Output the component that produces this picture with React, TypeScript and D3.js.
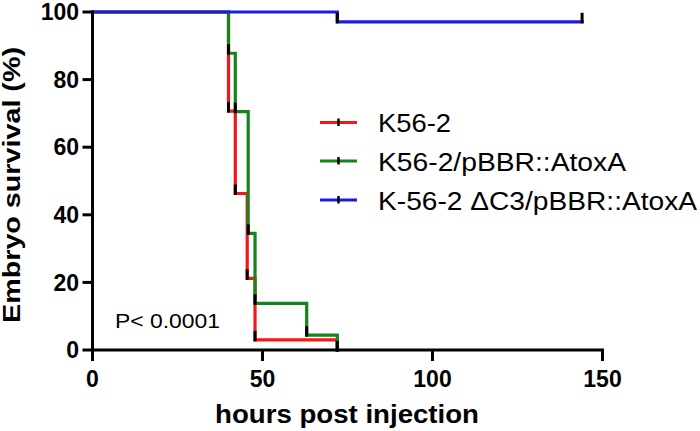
import React from "react";
import * as d3 from "d3";

const seriesNames = ["K56-2", "K56-2/pBBR::AtoxA", "K-56-2 \u0394C3/pBBR::AtoxA"];
const seriesColors = ["#f5161a", "#15841a", "#1c1ce0"];

const redTimes = [0, 40, 42, 45.5, 47.8, 72];
const redSurv = [100, 70.7, 46.3, 21.2, 3.0, 0];
const greenTimes = [0, 40, 42, 45.8, 47.8, 63, 72];
const greenSurv = [100, 87.8, 70.5, 34.5, 13.8, 4.4, 0];
const blueTimes = [0, 72, 144];
const blueSurv = [100, 97.1, 97.1];

const xTicks = [0, 50, 100, 150];
const yTicks = [0, 20, 40, 60, 80, 100];

const FONT = "'Liberation Sans', Arial, Helvetica, sans-serif";

export default function App() {
  const x = d3.scaleLinear().domain([0, 150]).range([92.5, 602.5]);
  const y = d3.scaleLinear().domain([0, 100]).range([350, 12]);

  const series = [
    { t: redTimes, s: redSurv },
    { t: greenTimes, s: greenSurv },
    { t: blueTimes, s: blueSurv },
  ];

  const line = d3
    .line<[number, number]>()
    .x((d) => x(d[0]))
    .y((d) => y(d[1]))
    .curve(d3.curveStepAfter);

  const legendY = [122.5, 161, 200];
  const legendTextLen = [73, 248, 319];

  return (
    <svg
      width={700}
      height={431}
      style={{ position: "absolute", left: 0, top: 0, background: "#fff" }}
      fontFamily={FONT}
    >
      <rect width={700} height={431} fill="#fff" />
      {series.map((sr, i) => {
        const pts: [number, number][] = sr.t.map((t, j) => [t, sr.s[j]]);
        return (
          <g key={i}>
            <path d={line(pts) || ""} fill="none" stroke={seriesColors[i]} strokeWidth={3.2} strokeLinecap="square" />
            {pts.slice(1).map((p, j) => (
              <line
                key={j}
                x1={x(p[0])}
                x2={x(p[0])}
                y1={y(p[1]) - 9}
                y2={y(p[1]) + 1.5}
                stroke="#000"
                strokeWidth={3}
              />
            ))}
          </g>
        );
      })}

      <line x1={x(0)} x2={x(0)} y1={y(100) - 1.5} y2={y(0)} stroke="#000" strokeWidth={3} />
      <line x1={x(0) - 1.5} x2={x(150) + 1.5} y1={y(0)} y2={y(0)} stroke="#000" strokeWidth={3} />
      {yTicks.map((v) => (
        <g key={"y" + v}>
          <line x1={x(0) - 10} x2={x(0)} y1={y(v)} y2={y(v)} stroke="#000" strokeWidth={3} />
          <text x={79} y={y(v)} dy="0.36em" textAnchor="end" fontSize={23} fontWeight="bold" fill="#000">
            {v}
          </text>
        </g>
      ))}
      {xTicks.map((v) => (
        <g key={"x" + v}>
          <line x1={x(v)} x2={x(v)} y1={y(0)} y2={y(0) + 11} stroke="#000" strokeWidth={3} />
          <text x={x(v)} y={387} textAnchor="middle" fontSize={23} fontWeight="bold" fill="#000">
            {v}
          </text>
        </g>
      ))}

      <text
        x={347}
        y={423}
        textAnchor="middle"
        fontSize={26}
        fontWeight="bold"
        textLength={264}
        lengthAdjust="spacingAndGlyphs"
        fill="#000"
      >
        hours post injection
      </text>
      <text
        transform={`translate(19.5,185) rotate(-90)`}
        textAnchor="middle"
        fontSize={23}
        fontWeight="bold"
        textLength={276}
        lengthAdjust="spacingAndGlyphs"
        fill="#000"
      >
        Embryo survival (%)
      </text>

      <text x={115} y={328} fontSize={21} textLength={105} lengthAdjust="spacingAndGlyphs" fill="#000">
        P&lt; 0.0001
      </text>

      {seriesNames.map((n, i) => (
        <g key={"lg" + i}>
          <line x1={320} x2={357} y1={legendY[i]} y2={legendY[i]} stroke={seriesColors[i]} strokeWidth={3.2} />
          <line x1={338.5} x2={338.5} y1={legendY[i] - 4} y2={legendY[i] + 3.5} stroke="#000" strokeWidth={2.5} />
          <text
            x={378}
            y={legendY[i] + 9.5}
            fontSize={25.5}
            textLength={legendTextLen[i]}
            lengthAdjust="spacingAndGlyphs"
            fill="#000"
          >
            {n}
          </text>
        </g>
      ))}
    </svg>
  );
}
